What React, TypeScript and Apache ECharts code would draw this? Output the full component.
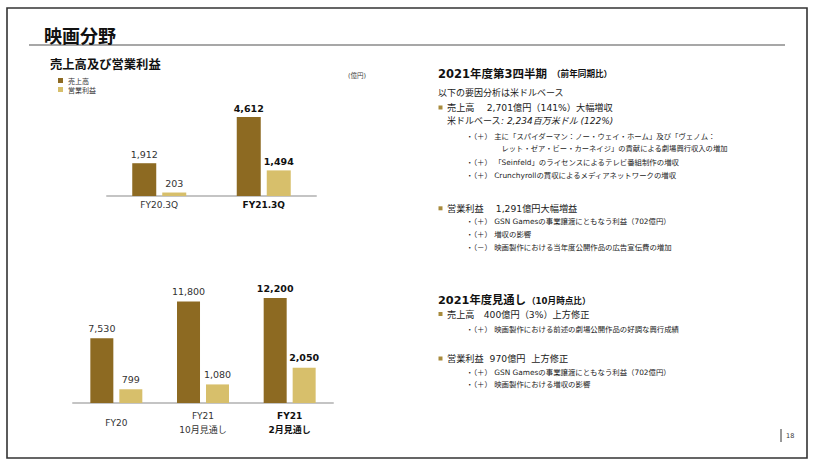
import React, { useEffect, useRef } from "react";
import * as echarts from "echarts";

const quarterCategories = ["FY20.3Q", "FY21.3Q"];
const quarterSales = [1912, 4612];
const quarterProfit = [203, 1494];

const yearCategories = ["FY20", "FY21\n10月見通し", "FY21\n2月見通し"];
const yearSales = [7530, 11800, 12200];
const yearProfit = [799, 1080, 2050];

const seriesNames = ["売上高", "営業利益"];

const SALES = "#8D6A22";
const PROFIT = "#D7BF6B";
const FONT = "'DejaVu Sans', 'Noto Sans CJK JP', sans-serif";
const JP = "'Noto Sans CJK JP', sans-serif";
const TXT = "#1a1a1a";
const BULLET = "#A88B3C";

const fmt = (p: any) => Number(p.value).toLocaleString("en-US");

function barData(values: number[], boldIndex: number) {
  return values.map((v, i) =>
    i === boldIndex
      ? { value: v, label: { fontWeight: "bold", color: "#111" } }
      : { value: v }
  );
}

function txt(x: number, y: number, text: string, fontSize: number, extra: any = {}) {
  return {
    type: "text",
    x,
    y,
    silent: true,
    style: {
      text,
      fontSize,
      fontFamily: FONT,
      fill: TXT,
      verticalAlign: "middle",
      align: "left",
      ...extra,
    },
  };
}

function square(x: number, y: number) {
  return {
    type: "rect",
    silent: true,
    shape: { x, y: y - 2, width: 4, height: 4 },
    style: { fill: BULLET },
  };
}

export default function App() {
  const ref = useRef<HTMLDivElement>(null);

  useEffect(() => {
    if (!ref.current) return;
    const chart = echarts.init(ref.current, null, { renderer: "svg" });

    const boldAxisLabel = (lastIndex: number) => (v: string, i: number) =>
      v
        .split("\n")
        .map((s) => (i === lastIndex ? `{b|${s}}` : `{n|${s}}`))
        .join("\n");

    const axisLabelBase = {
      interval: 0,
      fontSize: 9,
      color: "#333",
      fontFamily: FONT,
      verticalAlign: "middle",
      rich: {
        b: { fontWeight: "bold", fontSize: 9, color: "#111", fontFamily: FONT, lineHeight: 14 },
        n: { fontSize: 9, color: "#333", fontFamily: FONT, lineHeight: 14 },
      },
    };

    const labelBase = {
      show: true,
      position: "top",
      distance: 4,
      fontSize: 9.5,
      color: "#333",
      fontFamily: FONT,
      formatter: fmt,
    };

    const option: any = {
      animation: false,
      backgroundColor: "#fff",
      legend: {
        data: seriesNames,
        orient: "vertical",
        left: 53,
        top: 72,
        itemWidth: 5,
        itemHeight: 5,
        itemGap: 2,
        icon: "rect",
        selectedMode: false,
        textStyle: { fontSize: 7, color: "#333", fontFamily: JP },
      },
      grid: [
        { left: 107, top: 100, width: 209, height: 96 },
        { left: 73, top: 280, width: 260, height: 123 },
      ],
      xAxis: [
        {
          type: "category",
          gridIndex: 0,
          data: quarterCategories,
          axisTick: { show: false },
          axisLine: { lineStyle: { color: "#C4C4C4", width: 2 } },
          axisLabel: { ...axisLabelBase, margin: 9, formatter: boldAxisLabel(1) },
        },
        {
          type: "category",
          gridIndex: 1,
          data: yearCategories,
          axisTick: { show: false },
          axisLine: { lineStyle: { color: "#C4C4C4", width: 2 } },
          axisLabel: { ...axisLabelBase, margin: 20, formatter: boldAxisLabel(2) },
        },
      ],
      yAxis: [
        { type: "value", gridIndex: 0, min: 0, max: 5600, show: false, splitLine: { show: false } },
        { type: "value", gridIndex: 1, min: 0, max: 14300, show: false, splitLine: { show: false } },
        { type: "value", gridIndex: 1, min: 0, max: 7150, show: false, splitLine: { show: false } },
      ],
      series: [
        {
          type: "bar",
          name: seriesNames[0],
          xAxisIndex: 0,
          yAxisIndex: 0,
          data: barData(quarterSales, 1),
          barWidth: 24,
          barGap: "25%",
          itemStyle: { color: SALES },
          label: labelBase,
        },
        {
          type: "bar",
          name: seriesNames[1],
          xAxisIndex: 0,
          yAxisIndex: 0,
          data: barData(quarterProfit, 1),
          barWidth: 24,
          barGap: "25%",
          itemStyle: { color: PROFIT },
          label: labelBase,
        },
        {
          type: "bar",
          name: seriesNames[0],
          xAxisIndex: 1,
          yAxisIndex: 1,
          data: barData(yearSales, 2),
          barWidth: 23,
          barGap: "26%",
          itemStyle: { color: SALES },
          label: { ...labelBase, distance: 5 },
        },
        {
          type: "bar",
          name: seriesNames[1],
          xAxisIndex: 1,
          yAxisIndex: 2,
          data: barData(yearProfit, 2),
          barWidth: 23,
          barGap: "26%",
          itemStyle: { color: PROFIT },
          label: { ...labelBase, distance: 5 },
        },
      ],
      graphic: [
        {
          type: "rect",
          silent: true,
          shape: { x: 7, y: 8, width: 800, height: 450 },
          style: { fill: "none", stroke: "#333", lineWidth: 1.6 },
        },
        {
          type: "line",
          silent: true,
          shape: { x1: 29, y1: 45, x2: 785, y2: 45 },
          style: { stroke: "#8A8A8A", lineWidth: 1.5 },
        },
        txt(44, 35, "映画分野", 18, { fontWeight: "bold", fontFamily: JP, fill: "#111" }),
        txt(50, 64, "売上高及び営業利益", 12.3, { fontWeight: "bold", fontFamily: JP, fill: "#111" }),
        txt(348, 76, "(億円)", 6.5, { fill: "#444" }),

        txt(438, 73.5, "2021年度第3四半期", 11.5, { fontWeight: "bold", fill: "#111" }),
        txt(552, 73.5, "（前年同期比）", 8.6, { fontWeight: "bold", fill: "#111" }),
        txt(438, 92.5, "以下の要因分析は米ドルベース", 9),
        square(438.5, 107.5),
        txt(447, 107.5, "売上高　 2,701億円（141%）大幅増収", 9.2),
        {
          type: "text",
          x: 447,
          y: 121,
          silent: true,
          style: {
            text: "{a|米ドルベース}{b|: 2,234百万米ドル (122%)}",
            verticalAlign: "middle",
            fill: TXT,
            rich: {
              a: { fontSize: 9, fontFamily: FONT, fill: TXT },
              b: { fontSize: 9, fontFamily: FONT, fontStyle: "italic", fill: TXT },
            },
          },
        },
        txt(466, 136, "・（＋） 主に「スパイダーマン：ノー・ウェイ・ホーム」及び「ヴェノム：", 7.4),
        txt(501.5, 148.7, "レット・ゼア・ビー・カーネイジ」の貢献による劇場興行収入の増加", 7.3),
        txt(466, 162.7, "・（＋） 「Seinfeld」のライセンスによるテレビ番組制作の増収", 7.4),
        txt(466, 175.7, "・（＋） Crunchyrollの買収によるメディアネットワークの増収", 7.4),
        square(438.5, 208.3),
        txt(447, 208.3, "営業利益　 1,291億円大幅増益", 9.2),
        txt(466, 221, "・（＋） GSN Gamesの事業譲渡にともなう利益（702億円）", 7.4),
        txt(466, 234, "・（＋） 増収の影響", 7.4),
        txt(466, 247.3, "・（－） 映画製作における当年度公開作品の広告宣伝費の増加", 7.4),

        txt(438, 300.7, "2021年度見通し", 11.3, { fontWeight: "bold", fill: "#111" }),
        txt(527, 300.7, "（10月時点比）", 8.6, { fontWeight: "bold", fill: "#111" }),
        square(438.5, 314),
        txt(447, 314, "売上高　400億円（3%）上方修正", 9.2),
        txt(466, 329.5, "・（＋） 映画製作における前述の劇場公開作品の好調な興行成績", 7.4),
        square(438.5, 358.5),
        txt(447, 358.5, "営業利益  970億円  上方修正", 9.2),
        txt(466, 372, "・（＋） GSN Gamesの事業譲渡にともなう利益（702億円）", 7.4),
        txt(466, 384.3, "・（＋） 映画製作における増収の影響", 7.4),

        {
          type: "line",
          silent: true,
          shape: { x1: 781, y1: 429, x2: 781, y2: 442 },
          style: { stroke: "#333", lineWidth: 1 },
        },
        txt(786, 435.5, "18", 6.5, { fill: "#333" }),
      ],
    };

    chart.setOption(option);
    return () => chart.dispose();
  }, []);

  return (
    <div
      ref={ref}
      style={{ position: "fixed", left: 0, top: 0, width: 818, height: 466, background: "#fff" }}
    />
  );
}
